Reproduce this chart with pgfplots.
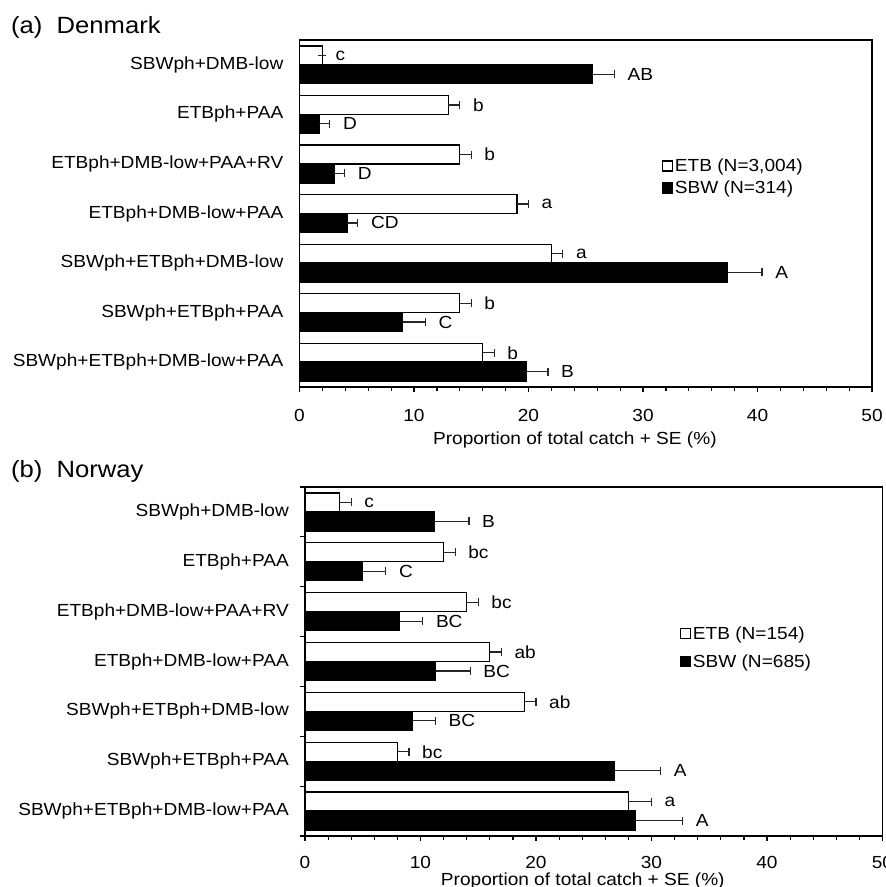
\documentclass[border=0pt]{standalone}
\usepackage{pgfplots}
\pgfplotsset{compat=1.18}
\usepackage{fontspec}
\setmainfont{Liberation Sans}[FakeStretch=1.09]
\newcommand\lblfont{\fontsize{17.5bp}{21bp}\selectfont}
\newcommand\titlefont{\fontsize{23.5bp}{28bp}\selectfont}
\tikzset{lab/.style={anchor=west, inner sep=0pt, xshift=13bp, font=\lblfont}}
\pgfplotsset{
  panel/.style={
    xbar, bar width=19bp, bar shift=0pt,
    scale only axis, clip=false,
    xmin=0, xmax=50, xtick={0,10,...,50}, minor x tick num=4,
    ymin=-0.5, ymax=6.5,
    ytick={-0.5,0.5,...,6.5},
    y tick label as interval,
    yticklabels={SBWph+ETBph+DMB-low+PAA,SBWph+ETBph+PAA,SBWph+ETBph+DMB-low,ETBph+DMB-low+PAA,ETBph+DMB-low+PAA+RV,ETBph+PAA,SBWph+DMB-low},
    tick align=outside,
    major tick length=5bp, minor tick length=4bp,
    xtick pos=bottom, ytick pos=left,
    axis line style={line width=1.6bp},
    tick style={line width=1.2bp, black},
    tick label style={font=\lblfont},
    label style={font=\lblfont},
    /pgf/number format/assume math mode=true,
    xticklabel style={anchor=base, yshift=-29bp},
    yticklabel style={anchor=east, inner sep=0pt, xshift=-11bp},
    xlabel={Proportion of total catch + SE (\%)},
    legend style={draw=none, fill=none, font=\lblfont, row sep=5bp, inner sep=0pt, nodes={inner sep=1.5bp}},
    legend cell align=left,
    legend image code/.code={\draw[line width=1.4bp, draw=black, #1] (0bp,-5bp) rectangle (10bp,5bp);},
    ebar/.style={error bars/.cd, x dir=plus, x explicit,
      error bar style={line width=1.2bp, black!85},
      error mark options={line width=1.2bp, mark size=4bp, black!85, rotate=90}},
  }
}
\begin{document}
\begin{tikzpicture}
\useasboundingbox (0,0) rectangle (886bp,-887bp);
\node[anchor=base west, font=\titlefont, inner sep=0pt] at (11bp,-33bp) {(a)\ \ Denmark};
\node[anchor=base west, font=\titlefont, inner sep=0pt] at (11bp,-477bp) {(b)\ \ Norway};

% ---------------- (a) Denmark ----------------
\begin{axis}[panel, at={(299.5bp,-387bp)}, anchor=south west,
  width=572.5bp, height=347bp,
  ytick style={draw=none},
  xlabel style={at={(axis description cs:0.481,0)}, anchor=base, yshift=-57bp},
  legend style={at={(0.633,0.605)}, anchor=west}]
\addplot[fill=white, draw=black, line width=1.3bp, ebar] coordinates {
  (2,6.19) +- (0,0)
  (13,5.19) +- (1,0)
  (14,4.19) +- (1,0)
  (19,3.19) +- (1,0)
  (22,2.19) +- (1,0)
  (14,1.19) +- (1,0)
  (16,0.19) +- (1,0)
};
\addlegendentry{ETB (N=3,004)}
\addplot[fill=black, draw=black, line width=1.3bp, ebar] coordinates {
  (25.6,5.81) +- (1.9,0)
  (1.7,4.81) +- (0.95,0)
  (3.0,3.81) +- (0.95,0)
  (4.15,2.81) +- (0.95,0)
  (37.4,1.81) +- (3.0,0)
  (9.0,0.81) +- (2.0,0)
  (19.8,-0.19) +- (1.9,0)
};
\addlegendentry{SBW (N=314)}
\node[lab] at (axis cs:2,6.19) {c};
\node[lab] at (axis cs:27.5,5.81) {AB};
\node[lab] at (axis cs:14,5.19) {b};
\node[lab] at (axis cs:2.65,4.81) {D};
\node[lab] at (axis cs:15,4.19) {b};
\node[lab] at (axis cs:3.95,3.81) {D};
\node[lab] at (axis cs:20,3.19) {a};
\node[lab] at (axis cs:5.1,2.81) {CD};
\node[lab] at (axis cs:23,2.19) {a};
\node[lab] at (axis cs:40.4,1.81) {A};
\node[lab] at (axis cs:15,1.19) {b};
\node[lab] at (axis cs:11,0.81) {C};
\node[lab] at (axis cs:17,0.19) {b};
\node[lab] at (axis cs:21.7,-0.19) {B};
\end{axis}

% ---------------- (b) Norway ----------------
\begin{axis}[panel, at={(305bp,-836bp)}, anchor=south west,
  width=577.5bp, height=349bp,
  xticklabel style={yshift=2bp},
  xlabel style={at={(axis description cs:0.481,0)}, anchor=base, yshift=-49bp},
  legend style={at={(0.649,0.54)}, anchor=west, row sep=11bp}]
\addplot[fill=white, draw=black, line width=1.3bp, ebar] coordinates {
  (3,6.19) +- (1,0)
  (12,5.19) +- (1,0)
  (14,4.19) +- (1,0)
  (16,3.19) +- (1,0)
  (19,2.19) +- (1,0)
  (8,1.19) +- (1,0)
  (28,0.19) +- (2,0)
};
\addlegendentry{ETB (N=154)}
\addplot[fill=black, draw=black, line width=1.3bp, ebar] coordinates {
  (11.2,5.81) +- (3.0,0)
  (5.0,4.81) +- (2.0,0)
  (8.2,3.81) +- (2.0,0)
  (11.3,2.81) +- (3.0,0)
  (9.3,1.81) +- (2.0,0)
  (26.8,0.81) +- (4.0,0)
  (28.6,-0.19) +- (4.1,0)
};
\addlegendentry{SBW (N=685)}
\node[lab] at (axis cs:4,6.19) {c};
\node[lab] at (axis cs:14.2,5.81) {B};
\node[lab] at (axis cs:13,5.19) {bc};
\node[lab] at (axis cs:7,4.81) {C};
\node[lab] at (axis cs:15,4.19) {bc};
\node[lab] at (axis cs:10.2,3.81) {BC};
\node[lab] at (axis cs:17,3.19) {ab};
\node[lab] at (axis cs:14.3,2.81) {BC};
\node[lab] at (axis cs:20,2.19) {ab};
\node[lab] at (axis cs:11.3,1.81) {BC};
\node[lab] at (axis cs:9,1.19) {bc};
\node[lab] at (axis cs:30.8,0.81) {A};
\node[lab] at (axis cs:30,0.19) {a};
\node[lab] at (axis cs:32.7,-0.19) {A};
\end{axis}
\end{tikzpicture}
\end{document}
